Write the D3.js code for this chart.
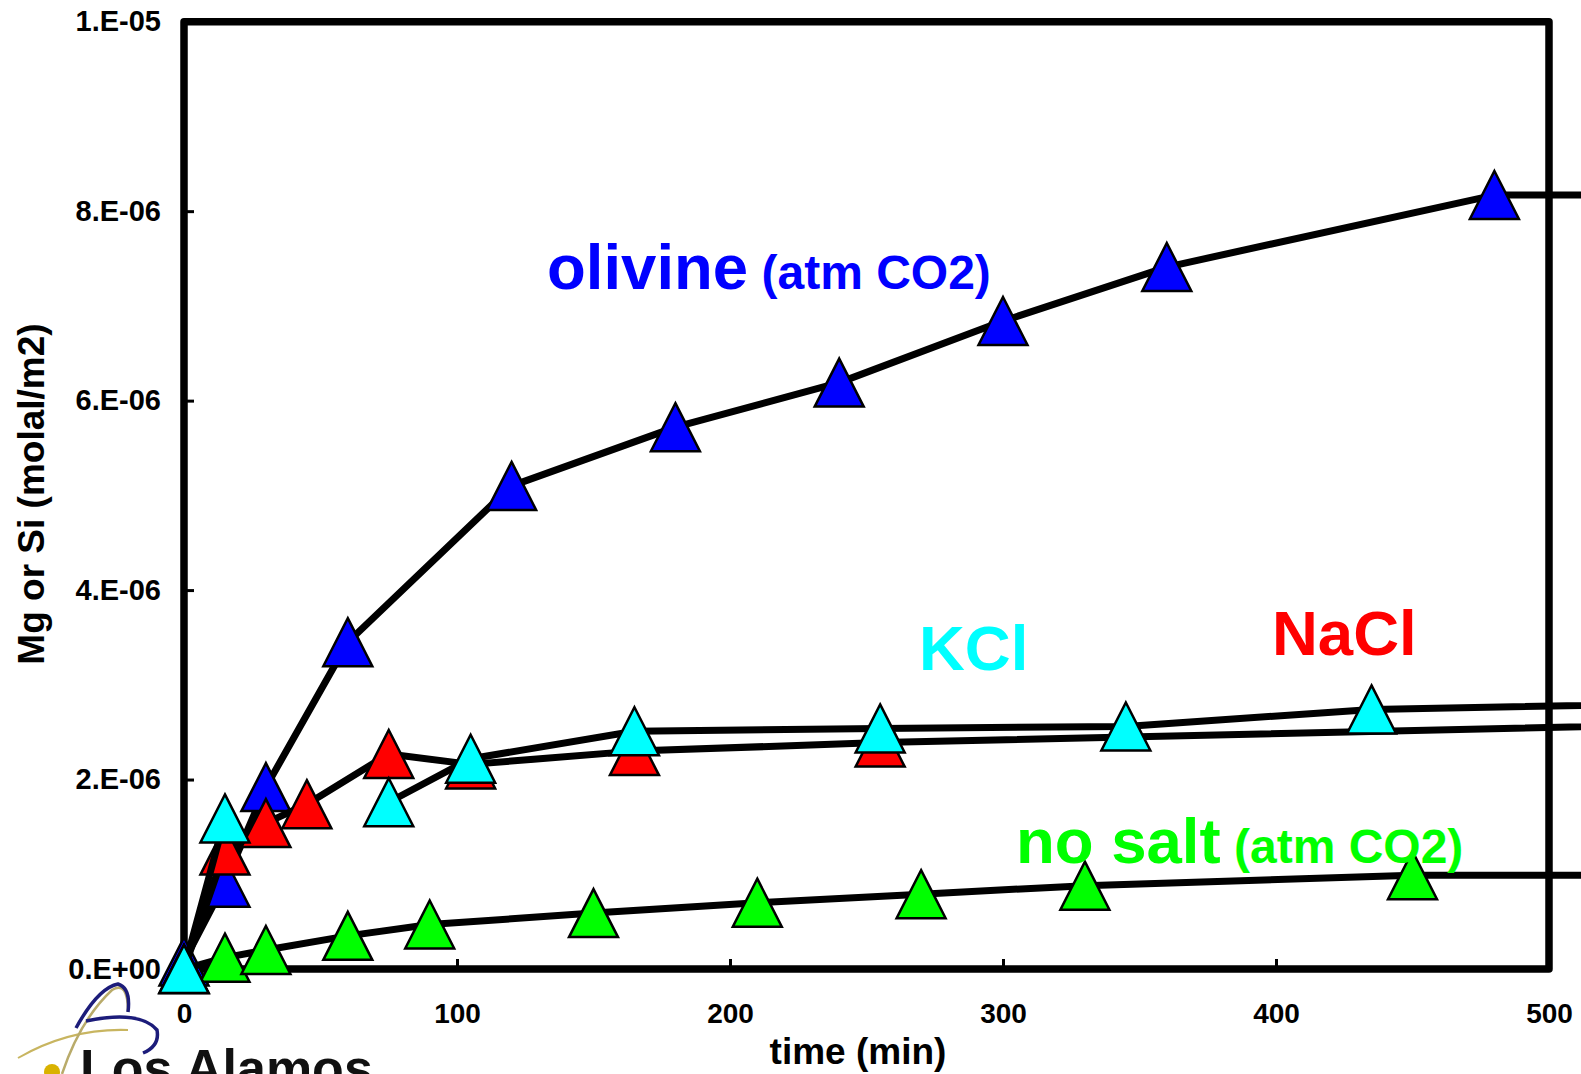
<!DOCTYPE html>
<html>
<head>
<meta charset="utf-8">
<script src="https://cdn.jsdelivr.net/npm/d3@7"></script>
<style>
  html, body { margin: 0; padding: 0; background: #fff; }
  svg { display: block; font-family: 'Liberation Sans', Arial, sans-serif; font-weight: bold; }
</style>
</head>
<body>
<div id="chart"></div>
<script>
// data (values in 1e-6 molal/m2, null = no sample -> gap in the line)
const olivineTime = [0, 15, 30, 60, 120, 180, 240, 300, 360, 480, 1440];
const olivineValue = [0.08, 0.91, 1.92, 3.45, 5.10, 5.72, 6.19, 6.84, 7.41, 8.17, 8.17];

const naclTime = [0, 15, 30, 45, 75, 105, 165, 255, 1440];
const naclValue = [0, 1.25, 1.54, 1.74, 2.27, 2.16, 2.30, 2.39, 3.16];

const kclTime = [0, 15, 45, 75, 105, 165, 255, 345, 435, 1440];
const kclValue = [0, 1.59, null, 1.76, 2.22, 2.51, 2.54, 2.56, 2.74, 3.30];

const noSaltTime = [0, 15, 30, 60, 90, 150, 210, 270, 330, 450, 1440];
const noSaltValue = [0, 0.12, 0.20, 0.35, 0.47, 0.59, 0.70, 0.79, 0.88, 0.99, 1.00];

const xTicks = [0, 100, 200, 300, 400, 500];
const yTicks = [0, 2e-6, 4e-6, 6e-6, 8e-6, 1e-5];
const yTickLabels = ['0.E+00', '2.E-06', '4.E-06', '6.E-06', '8.E-06', '1.E-05'];

const width = 1581;
const height = 1074;
const plot = { left: 184, right: 1549, top: 21.7, bottom: 969 };

const series = [
  { name: 'olivine', color: '#0000ff', time: olivineTime, value: olivineValue },
  { name: 'no salt', color: '#00ff00', time: noSaltTime, value: noSaltValue },
  { name: 'NaCl', color: '#ff0000', time: naclTime, value: naclValue },
  { name: 'KCl', color: '#00ffff', time: kclTime, value: kclValue },
];

const x = d3.scaleLinear().domain([0, 500]).range([plot.left, plot.right]);
const y = d3.scaleLinear().domain([0, 1e-5]).range([plot.bottom, plot.top]);

const svg = d3.select('#chart')
  .append('svg')
  .attr('width', width)
  .attr('height', height);

// logo in the bottom-left corner (cut by the page edge, as in the slide)
const logo = svg.append('g').attr('class', 'logo');
logo.append('path')
  .attr('d', 'M18,1058 Q70,1028 128,1030')
  .attr('fill', 'none')
  .attr('stroke', '#c8b560')
  .attr('stroke-width', 2);
logo.append('path')
  .attr('d', 'M62,1074 Q80,1020 112,990 Q128,980 128,1012')
  .attr('fill', 'none')
  .attr('stroke', '#b9ab6a')
  .attr('stroke-width', 2.5);
logo.append('path')
  .attr('d', 'M76,1028 Q98,988 118,984 Q131,988 128,1012')
  .attr('fill', 'none')
  .attr('stroke', '#1c1c7a')
  .attr('stroke-width', 3.5);
logo.append('path')
  .attr('d', 'M86,1021 Q140,1010 157,1030 Q160,1046 143,1053')
  .attr('fill', 'none')
  .attr('stroke', '#1c1c7a')
  .attr('stroke-width', 3.5);
logo.append('circle')
  .attr('cx', 52).attr('cy', 1072).attr('r', 8)
  .attr('fill', '#d9b200');
logo.append('text')
  .attr('x', 80)
  .attr('y', 1086)
  .attr('font-size', 52)
  .attr('fill', '#111')
  .text('Los Alamos');

// frame
svg.append('rect')
  .attr('x', plot.left)
  .attr('y', plot.top)
  .attr('width', plot.right - plot.left)
  .attr('height', plot.bottom - plot.top)
  .attr('fill', 'none')
  .attr('stroke', '#000')
  .attr('stroke-width', 7.5)
  .attr('stroke-linejoin', 'round');

// axes
const yAxis = d3.axisLeft(y)
  .tickValues(yTicks)
  .tickFormat((d, i) => yTickLabels[i])
  .tickSizeInner(-10)
  .tickSizeOuter(0)
  .tickPadding(23);

const xAxis = d3.axisBottom(x)
  .tickValues(xTicks)
  .tickFormat(d3.format('d'))
  .tickSizeInner(-10)
  .tickSizeOuter(0)
  .tickPadding(34);

svg.append('g')
  .attr('class', 'axis axis-y')
  .attr('transform', `translate(${plot.left},0)`)
  .call(yAxis)
  .call((g) => g.select('.domain').remove())
  .call((g) => g.selectAll('line').attr('stroke', '#000').attr('stroke-width', 3))
  .call((g) => g.selectAll('text')
    .attr('font-size', 29)
    .attr('font-family', null)
    .attr('fill', '#000'));

svg.append('g')
  .attr('class', 'axis axis-x')
  .attr('transform', `translate(0,${plot.bottom})`)
  .call(xAxis)
  .call((g) => g.select('.domain').remove())
  .call((g) => g.selectAll('line').attr('stroke', '#000').attr('stroke-width', 3))
  .call((g) => g.selectAll('text')
    .attr('font-size', 28)
    .attr('font-family', null)
    .attr('fill', '#000'));

// axis titles
svg.append('text')
  .attr('x', 858)
  .attr('y', 1064)
  .attr('text-anchor', 'middle')
  .attr('font-size', 37)
  .text('time (min)');

svg.append('text')
  .attr('transform', 'translate(44,494) rotate(-90)')
  .attr('text-anchor', 'middle')
  .attr('font-size', 37)
  .text('Mg or Si (molal/m2)');

// series
const line = d3.line()
  .defined((d) => d.v != null)
  .x((d) => x(d.t))
  .y((d) => y(d.v));

const tri = 'M0,-24 L24.5,24 L-24.5,24 Z';

series.forEach((s) => {
  const pts = s.time.map((t, i) => ({ t, v: s.value[i] == null ? null : s.value[i] * 1e-6 }));
  const g = svg.append('g').attr('class', `series series-${s.name.replace(' ', '-')}`);

  g.append('path')
    .datum(pts)
    .attr('d', line)
    .attr('fill', 'none')
    .attr('stroke', '#000')
    .attr('stroke-width', 7)
    .attr('stroke-linejoin', 'round');

  g.selectAll('path.marker')
    .data(pts.filter((d) => d.v != null))
    .join('path')
    .attr('class', 'marker')
    .attr('d', tri)
    .attr('transform', (d) => `translate(${x(d.t)},${y(d.v)})`)
    .attr('fill', s.color)
    .attr('stroke', '#000')
    .attr('stroke-width', 2.5)
    .attr('stroke-linejoin', 'miter');
});

// in-plot labels
const label = (xPos, yPos, color, main, sub) => {
  const t = svg.append('text')
    .attr('x', xPos)
    .attr('y', yPos)
    .attr('fill', color)
    .attr('font-size', 63.5);
  t.append('tspan').text(main);
  if (sub) {
    t.append('tspan')
      .attr('font-size', 48)
      .text(` ${sub}`);
  }
};

label(547, 289, '#0000ff', 'olivine', '(atm CO2)');
label(919, 670, '#00ffff', 'KCl');
label(1272, 655, '#ff0000', 'NaCl');
label(1016, 863, '#00ff00', 'no salt', '(atm CO2)');
</script>
</body>
</html>
